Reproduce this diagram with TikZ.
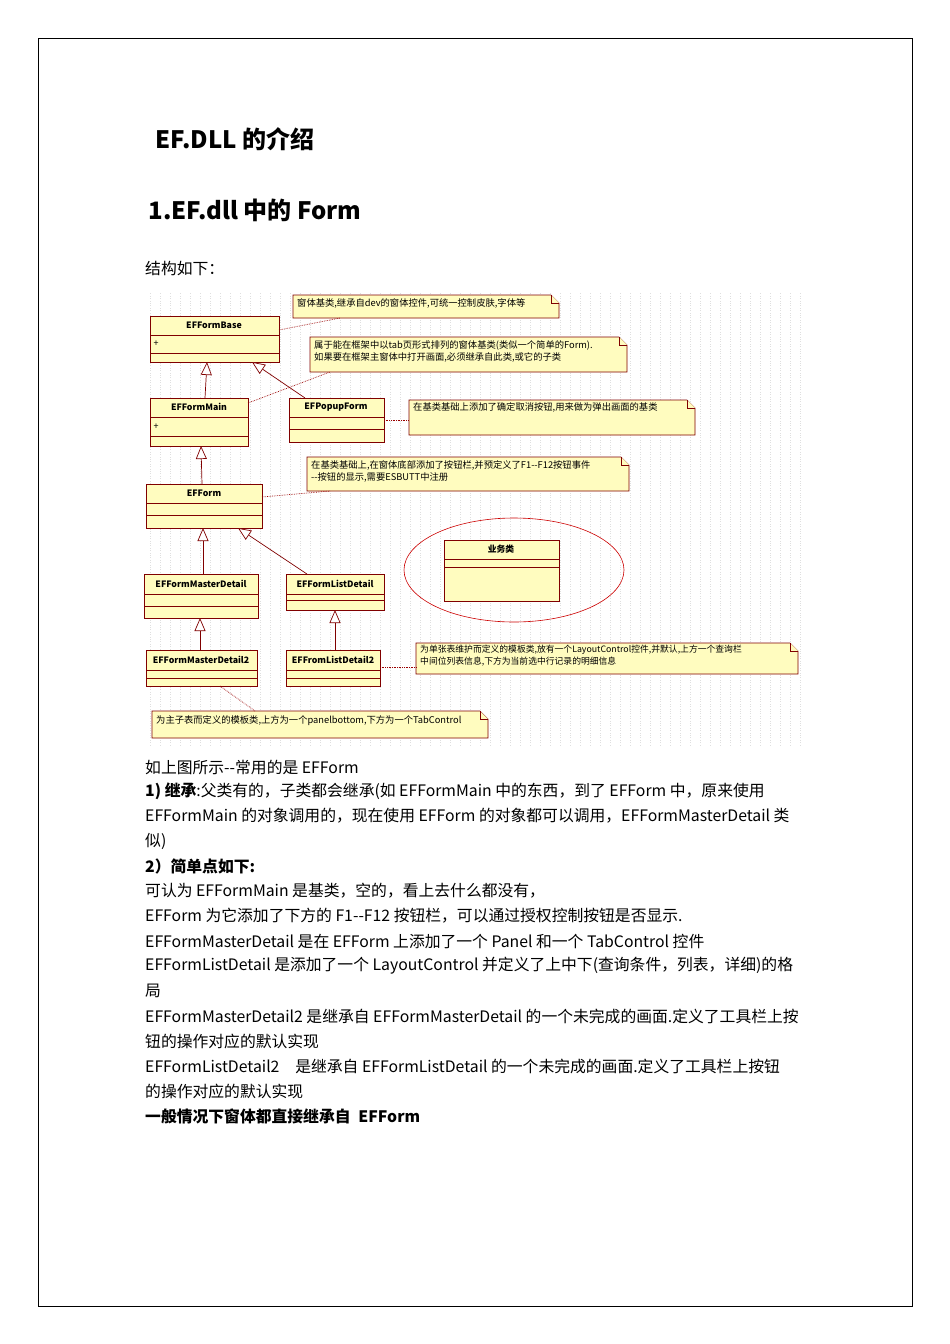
\documentclass[tikz,border=0pt]{standalone}
\usepackage{fontspec}
\setmainfont{Noto Sans CJK SC}
\usetikzlibrary{arrows.meta}
\tikzset{
 cls/.style={draw=red!50!black,fill=yellow!25,line width=0.8pt},
 note/.style={draw=red!50!black,fill=yellow!25,line width=0.7pt},
 nt/.style={anchor=north west,font=\fontsize{9.3}{12}\selectfont,align=left,inner sep=0pt},
 cn/.style={font=\fontsize{8.8}{10}\selectfont\bfseries,inner sep=0pt},
 inh/.style={draw=red!50!black,line width=0.7pt,-{Triangle[open,length=13pt,width=11pt,fill=white]}},
 dl/.style={draw=red!60!black,densely dotted,line width=0.7pt},
 body/.style={anchor=west,font=\fontsize{15.8}{17}\selectfont,inner sep=0pt}
}
\newcommand{\klass}[7]{% name, x1,y1,x2,y2,l1,l2
 \draw[cls] (#2,#3) rectangle (#4,#5);
 \draw[red!50!black,line width=0.8pt] (#2,#6)--(#4,#6) (#2,#7)--(#4,#7);
 \coordinate (#1-nw) at (#2,#3);}
\newcommand{\mynote}[5]{% name x1 y1 x2 y2
 \fill[yellow!25] (#2,#3)--(#4-8,#3)--(#4,#3+8)--(#4,#5)--(#2,#5)--cycle;
 \draw[note] (#2,#3)--(#4-8,#3)--(#4,#3+8)--(#4,#5)--(#2,#5)--cycle;
 \draw[note] (#4-8,#3)--(#4-8,#3+8)--(#4,#3+8);}
\newcommand{\dd}{{-}{-}}
\begin{document}
\begin{tikzpicture}[x=1pt,y=-1pt]
\useasboundingbox (0,0) rectangle (950,1344);
\fill[white] (0,0) rectangle (950,1344);
\draw[line width=0.8pt] (38,38) rectangle (912,1306);
\node[anchor=west,font=\fontsize{24}{26}\selectfont\bfseries] (t1) at (152,139) {EF.DLL 的介绍};
\node[anchor=west,font=\fontsize{24}{26}\selectfont\bfseries] (t2) at (145,210) {1.EF.dll 中的 Form};
\node[body] (t3) at (145,268) {结构如下：};
% grid
\draw[gray!25,dotted,step=10] (145,292) grid (805,745);
% classes
\klass{base}{150}{316}{279}{362}{335}{353}
\klass{main}{150}{398}{248}{446}{417}{436}
\klass{pop}{289}{398}{384}{442}{417}{429}
\klass{form}{146}{484}{262}{528}{503}{515}
\klass{md}{144}{574}{258}{618}{594}{606}
\klass{ld}{286}{574}{384}{610}{594}{600}
\klass{md2}{146}{650}{257}{686}{670}{678}
\klass{ld2}{286}{650}{380}{686}{670}{678}
\klass{biz}{444}{540}{559}{601}{559}{567}
\node[cn] (nbase) at (214,325) {EFFormBase};
\node[font=\fontsize{9}{10}\selectfont,inner sep=0pt] (pb) at (156,344) {+};
\node[cn] (nmain) at (199,407) {EFFormMain};
\node[font=\fontsize{9}{10}\selectfont,inner sep=0pt] (pm) at (156,427) {+};
\node[cn] (npop) at (336,407) {EFPopupForm};
\node[cn] (nform) at (204,493) {EFForm};
\node[cn] (nmd) at (201,584) {EFFormMasterDetail};
\node[cn] (nld) at (335,584) {EFFormListDetail};
\node[cn] (nmd2) at (201,660) {EFFormMasterDetail2};
\node[cn] (nld2) at (333,660) {EFFromListDetail2};
\node[cn] (nbiz) at (501,549) {业务类};
\draw[red!80!black,line width=0.6pt] (514,570) ellipse (110 and 52);
% inheritance
\coordinate (a1) at (205,398); \coordinate (b1) at (207,362);
\coordinate (a2) at (305,398); \coordinate (b2) at (252,362);
\coordinate (a3) at (202,484); \coordinate (b3) at (201,446);
\coordinate (a4) at (203,574); \coordinate (b4) at (203,528);
\coordinate (a5) at (307,574); \coordinate (b5) at (238,528);
\coordinate (a6) at (200,650); \coordinate (b6) at (200,618);
\coordinate (a7) at (335,650); \coordinate (b7) at (335,610);
\foreach \i in {1,...,7} \draw[inh] (a\i) -- (b\i);
% notes
\mynote{n1}{293}{295}{559}{318}
\node[nt] (tn1) at (297,298) {窗体基类,继承自dev的窗体控件,可统一控制皮肤,字体等};
\mynote{n2}{310}{337}{627}{372}
\node[nt] (tn2) at (314,340) {属于能在框架中以tab页形式排列的窗体基类(类似一个简单的Form).\\如果要在框架主窗体中打开画面,必须继承自此类,或它的子类};
\mynote{n3}{409}{400}{695}{435}
\node[nt] (tn3) at (413,402) {在基类基础上添加了确定取消按钮,用来做为弹出画面的基类};
\mynote{n4}{307}{457}{629}{491}
\node[nt] (tn4) at (311,460) {在基类基础上,在窗体底部添加了按钮栏,并预定义了F1\dd F12按钮事件\\\dd 按钮的显示,需要ESBUTT中注册};
\mynote{n5}{416}{643}{798}{674}
\node[nt,font=\fontsize{8.8}{12}\selectfont] (tn5) at (420,645) {为单张表维护而定义的模板类,放有一个LayoutControl控件,并默认,上方一个查询栏\\中间位列表信息,下方为当前选中行记录的明细信息};
\mynote{n6}{152}{711}{488}{738}
\node[nt] (tn6) at (156,715) {为主子表而定义的模板类,上方为一个panelbottom,下方为一个TabControl};
\coordinate (c1) at (279,330); \coordinate (d1) at (340,318);
\coordinate (c2) at (248,403); \coordinate (d2) at (330,372);
\coordinate (c3) at (384,420); \coordinate (d3) at (409,420);
\coordinate (c4) at (262,497); \coordinate (d4) at (330,491);
\coordinate (c5) at (380,667); \coordinate (d5) at (416,667);
\coordinate (c6) at (220,686); \coordinate (d6) at (255,711);
\foreach \i in {1,...,6} \draw[dl] (c\i) -- (d\i);
% body
\node[body] (l1) at (145,767) {如上图所示\dd 常用的是 EFForm};
\node[body] (l2) at (145,791) {\textbf{1) 继承}:父类有的，子类都会继承(如 EFFormMain 中的东西，到了 EFForm 中，原来使用};
\node[body] (l3) at (145,816) {EFFormMain 的对象调用的，现在使用 EFForm 的对象都可以调用，EFFormMasterDetail 类};
\node[body] (l4) at (145,841) {似)};
\node[body] (l5) at (145,866) {\textbf{2）简单点如下:}};
\node[body] (l6) at (145,891) {可认为 EFFormMain 是基类，空的，看上去什么都没有，};
\node[body] (l7) at (145,916) {EFForm 为它添加了下方的 F1\dd F12 按钮栏，可以通过授权控制按钮是否显示.};
\node[body] (l8) at (145,941) {EFFormMasterDetail 是在 EFForm 上添加了一个 Panel 和一个 TabControl 控件};
\node[body] (l9) at (145,966) {EFFormListDetail 是添加了一个 LayoutControl 并定义了上中下(查询条件，列表，详细)的格};
\node[body] (l10) at (145,991) {局};
\node[body] (l11) at (145,1016) {EFFormMasterDetail2 是继承自 EFFormMasterDetail 的一个未完成的画面.定义了工具栏上按};
\node[body] (l12) at (145,1041) {钮的操作对应的默认实现};
\node[body] (l13) at (145,1066) {EFFormListDetail2\quad 是继承自 EFFormListDetail 的一个未完成的画面.定义了工具栏上按钮};
\node[body] (l14) at (145,1091) {的操作对应的默认实现};
\node[body] (l15) at (145,1116) {\textbf{一般情况下窗体都直接继承自\enspace EFForm}};
\end{tikzpicture}
\end{document}
